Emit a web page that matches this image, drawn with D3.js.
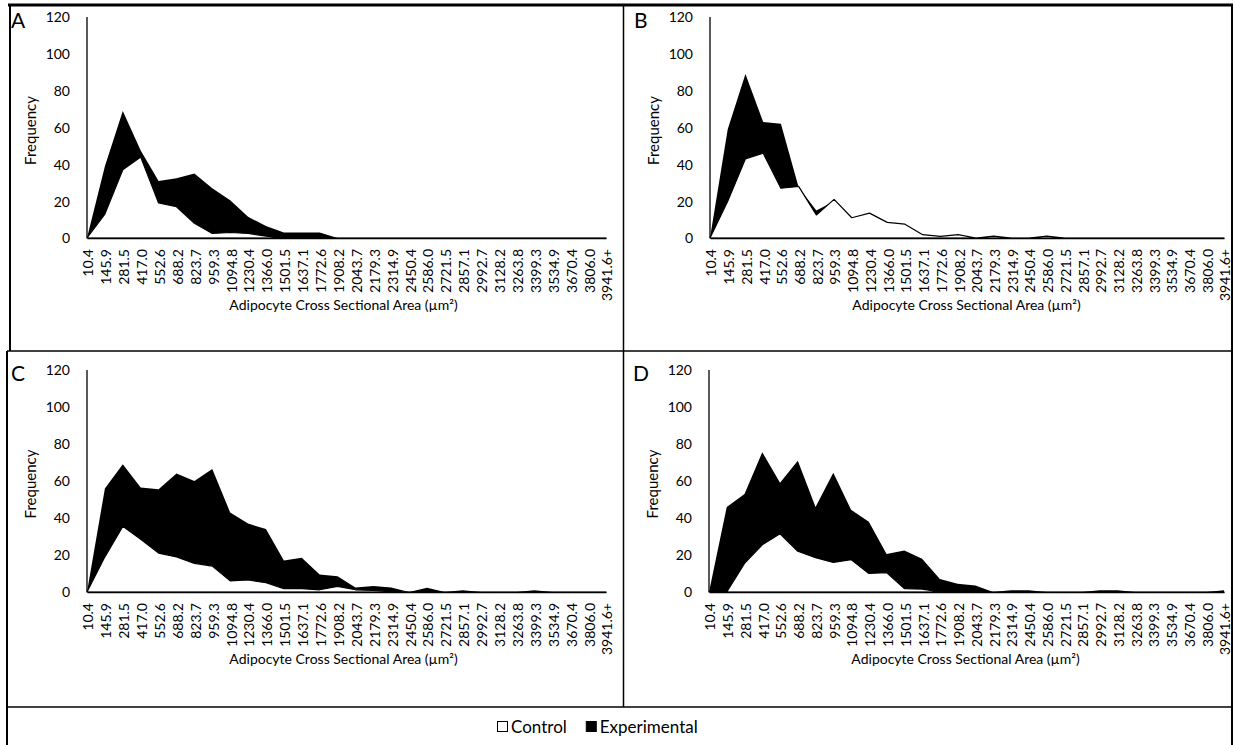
<!DOCTYPE html>
<html>
<head>
  <meta charset="utf-8">
  <title>Adipocyte cross sectional area</title>
  <style>
    body { margin: 0; background: #fff; }
    svg text { font-family: Lato, "Open Sans", sans-serif; fill: #000; }
    .axis path { stroke: #000; stroke-width: 1.3px; }
    .axis text { font-size: 14px; }
  </style>
</head>
<body>
  <svg width="1234" height="745"></svg>
  <script src="https://cdnjs.cloudflare.com/ajax/libs/d3/7.8.5/d3.min.js"></script>
  <script>
    // categorias del eje x (area de seccion, um2)
    const categories = ['10.4', '145.9', '281.5', '417.0', '552.6', '688.2', '823.7', '959.3', '1094.8', '1230.4',
      '1366.0', '1501.5', '1637.1', '1772.6', '1908.2', '2043.7', '2179.3', '2314.9', '2450.4', '2586.0',
      '2721.5', '2857.1', '2992.7', '3128.2', '3263.8', '3399.3', '3534.9', '3670.4', '3806.0', '3941.6+'];
    const yTicks = [0, 20, 40, 60, 80, 100, 120];
    const seriesNames = ['Control', 'Experimental'];

    const controlA = [0, 13, 37, 44, 19, 17, 8, 2.5, 3, 2.5, 1, 0, 0, 0, 0, 0, 0, 0, 0, 0, 0, 0, 0, 0, 0, 0, 0, 0, 0, 0];
    const experimentalA = [0, 39, 69, 47.5, 31, 32.5, 35, 27, 20.5, 11.5, 6.5, 3, 3, 3, 0, 0, 0, 0, 0, 0, 0, 0, 0, 0, 0, 0, 0, 0, 0, 0];

    const controlB = [0, 20, 43, 46, 27, 28, 12.5, 21, 11, 13.5, 8.5, 7.5, 1.8, 0.9, 1.8, 0, 1, 0, 0, 1, 0, 0, 0, 0, 0, 0, 0, 0, 0, 0];
    const experimentalB = [0, 59, 89, 63, 62, 27.5, 15, 20, 10, 13, 8, 7, 1.5, 0.8, 1.5, 0, 0.8, 0, 0, 0.8, 0, 0, 0, 0, 0, 0, 0, 0, 0, 0];

    const controlC = [0, 19, 35.5, 28.5, 21, 19, 15.5, 14, 6, 6.5, 5, 1.8, 1.8, 1.2, 3, 1.2, 0.8, 0.4, 0, 0, 0, 0, 0, 0, 0, 0, 0, 0, 0, 0];
    const experimentalC = [0, 56, 69, 56.5, 55.5, 64, 60, 66.5, 43, 37, 34, 17, 18.5, 9.5, 8.5, 2.5, 3.3, 2.5, 0, 2.3, 0, 1, 0, 0, 0, 1, 0, 0, 0, 0];

    const controlD = [0, 0, 15.5, 25.5, 31.5, 22, 18.5, 16, 17.5, 10, 10.5, 1.8, 1.6, 0, 0, 0, 0, 0, 0, 0, 0, 0, 0, 0, 0, 0, 0, 0, 0, 0];
    const experimentalD = [0, 46, 53, 75.5, 59, 71, 46, 64.5, 44.5, 38, 20.5, 22.5, 18, 7, 4.5, 3.5, 0, 1, 1, 0, 0, 0, 1, 1, 0, 0, 0, 0, 0, 1];

    const panels = [
      { label: 'A', control: controlA, experimental: experimentalA, left: 87, right: 606, top: 17, bottom: 238 },
      { label: 'B', control: controlB, experimental: experimentalB, left: 710, right: 1224, top: 17, bottom: 238 },
      { label: 'C', control: controlC, experimental: experimentalC, left: 87, right: 606, top: 370, bottom: 592 },
      { label: 'D', control: controlD, experimental: experimentalD, left: 709, right: 1224, top: 370, bottom: 592 }
    ];

    let svg = d3.select('svg');

    // marco tipo tabla
    let frame = svg.append('g').attr('stroke', '#000').attr('fill', 'none');
    frame.append('line').attr('x1', 8).attr('x2', 1233).attr('y1', 5).attr('y2', 5).attr('stroke-width', 3);
    frame.append('line').attr('x1', 10).attr('x2', 10).attr('y1', 4).attr('y2', 351).attr('stroke-width', 2);
    frame.append('line').attr('x1', 7).attr('x2', 7).attr('y1', 351).attr('y2', 745).attr('stroke-width', 2);
    frame.append('line').attr('x1', 1232).attr('x2', 1232).attr('y1', 4).attr('y2', 745).attr('stroke-width', 2);
    frame.append('line').attr('x1', 7).attr('x2', 1233).attr('y1', 351).attr('y2', 351).attr('stroke-width', 1.5);
    frame.append('line').attr('x1', 7).attr('x2', 1233).attr('y1', 707).attr('y2', 707).attr('stroke-width', 1.5);
    frame.append('line').attr('x1', 623.5).attr('x2', 623.5).attr('y1', 5).attr('y2', 707).attr('stroke-width', 1.5);

    panels.forEach((p) => {
      let x = d3.scalePoint()
                .domain(categories)
                .range([p.left, p.right]);
      let y = d3.scaleLinear()
                .domain([0, 120])
                .range([p.bottom, p.top]);

      let area = d3.area()
                   .x((d, i) => x(categories[i]))
                   .y0(y(0))
                   .y1((d) => y(d));

      let g = svg.append('g');

      g.append('path')
       .attr('d', area(p.experimental))
       .attr('fill', '#000');

      g.append('path')
       .attr('d', area(p.control))
       .attr('fill', '#fff')
       .attr('stroke', '#000')
       .attr('stroke-width', 1.2)
       .attr('stroke-linejoin', 'round');

      let xAxis = d3.axisBottom(x).tickSize(0).tickSizeOuter(0);
      let yAxis = d3.axisLeft(y).tickValues(yTicks).tickSize(0).tickPadding(17);

      let gx = g.append('g')
                .attr('class', 'axis')
                .attr('transform', 'translate(0,' + p.bottom + ')')
                .call(xAxis);
      gx.selectAll('text')
        .attr('transform', 'rotate(-90)')
        .attr('x', -11)
        .attr('y', 1)
        .attr('dy', '0.35em')
        .style('text-anchor', 'end');

      let gy = g.append('g')
                .attr('class', 'axis')
                .attr('transform', 'translate(' + p.left + ',0)')
                .call(yAxis);
      gy.select('.domain').attr('d', 'M0,' + p.top + 'V' + p.bottom);
      gy.selectAll('text').attr('dy', '0.35em');

      g.append('text')
       .attr('transform', 'translate(' + (p.left - 51) + ',' + ((p.top + p.bottom) / 2 + 3) + ') rotate(-90)')
       .attr('text-anchor', 'middle')
       .style('font-size', '15px')
       .text('Frequency');

      g.append('text')
       .attr('x', (p.left + 606 - 87 + p.left) / 2 - 3)
       .attr('y', p.bottom + 72)
       .attr('text-anchor', 'middle')
       .style('font-size', '14px')
       .text('Adipocyte Cross Sectional Area (µm²)');

      g.append('text')
       .attr('x', p.left - 76)
       .attr('y', p.top + 11)
       .style('font-size', '21px')
       .text(p.label);
    });

    // leyenda
    let legend = svg.append('g').attr('transform', 'translate(497,727)');
    let lx = 0;
    seriesNames.forEach((name, i) => {
      legend.append('rect')
            .attr('x', lx + 0.5).attr('y', -5.5)
            .attr('width', 10).attr('height', 10)
            .attr('fill', i === 0 ? '#fff' : '#000')
            .attr('stroke', '#000');
      let t = legend.append('text')
                    .attr('x', lx + 14)
                    .attr('y', 0)
                    .attr('dy', '0.35em')
                    .style('font-size', '17px')
                    .text(name);
      lx += 14 + t.node().getComputedTextLength() + 19;
    });
  </script>
</body>
</html>
